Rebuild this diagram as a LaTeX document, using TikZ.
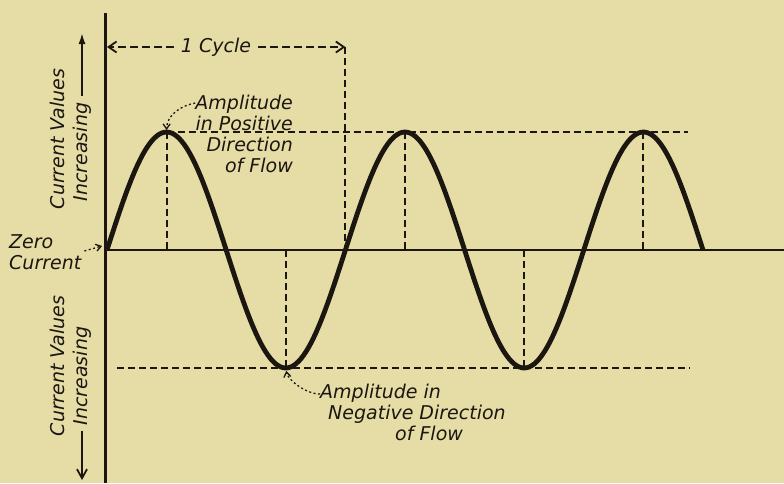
\documentclass[tikz,border=0pt]{standalone}
\usepackage{fontspec}
\newfontfamily\letterfont{DejaVu Sans}
\usetikzlibrary{arrows.meta}
\definecolor{paper}{RGB}{229,220,166}
\definecolor{ink}{RGB}{28,22,16}

\begin{document}
\begin{tikzpicture}[x=1pt, y=-1pt,
    lettering/.style={inner sep=0pt, text=ink, font=\letterfont\itshape\fontsize{19}{21}\selectfont},
    axisline/.style={draw=ink, line width=2.6pt},
    wave/.style={draw=ink, line width=4.8pt, line join=round},
    guide/.style={draw=ink, line width=2pt, dash pattern=on 7pt off 4pt},
    pointer/.style={draw=ink, line width=1.3pt, dash pattern=on 2pt off 2.5pt, -{Straight Barb[length=5pt,width=7pt]}},
    span/.style={draw=ink, line width=1.8pt, dash pattern=on 8pt off 4pt, -{Straight Barb[length=8pt,width=11pt]}}]

    \useasboundingbox (0,0) rectangle (784,483);
    \fill[paper] (0,0) rectangle (784,483);

    % Axes
    \coordinate (O) at (105,250);
    \coordinate (top) at (105,13);
    \coordinate (bot) at (105,483);
    \coordinate (far) at (784,250);
    \draw[axisline, line width=3pt] (top) -- (bot);
    \draw[axisline] (O) -- (far);

    % Peaks and troughs
    \foreach \k in {0,1,2}
        \coordinate (pk\k) at ({166.6+238.4*\k},132);
    \foreach \k in {0,1}
        \coordinate (tr\k) at ({285.8+238.4*\k},368);
    \coordinate (hiend) at (688,132);
    \coordinate (loa) at (117,368);
    \coordinate (lob) at (690,368);

    % Amplitude guides
    \draw[guide, line width=2.3pt] (pk0) -- (hiend);
    \draw[guide, line width=2.3pt] (loa) -- (lob);
    \foreach \k in {0,1,2}
        \draw[guide] (pk\k) -- (pk\k |- O);
    \foreach \k in {0,1}
        \draw[guide] (tr\k |- O) -- (tr\k);

    % Wave
    \draw[wave] plot[smooth, domain=0:900, samples=121] ({107+\x/360*238.4},{250-118*sin(\x)});

    % Cycle
    \node[lettering, inner xsep=7pt] (cyc) at (216,47) {1 Cycle};
    \coordinate (cycL) at (107,47);
    \coordinate (cycR) at (345.4,47);
    \draw[span] (cyc.west) -- (cycL);
    \draw[span] (cyc.east) -- (cycR);
    \draw[guide] (cycR) -- (cycR |- O);

    % Side labels
    \node[lettering, rotate=90] (upcur) at (57,139) {Current Values};
    \node[lettering, rotate=90] (upinc) at (82,152) {Increasing};
    \coordinate (uptip) at (82,33);
    \draw[ink, line width=1.8pt, shorten <=7pt, -{Latex[length=11pt,width=7pt]}] (upinc.east) -- (uptip);

    \node[lettering, rotate=90] (locur) at (57,366) {Current Values};
    \node[lettering, rotate=90] (loinc) at (82,376) {Increasing};
    \coordinate (lotip) at (82,480);
    \draw[ink, line width=1.8pt, shorten <=6pt, -{Straight Barb[length=9pt,width=10pt]}] (loinc.west) -- (lotip);

    % Zero current
    \node[lettering, align=left, anchor=north west] (zero) at (9,234) {Zero\\Current};
    \coordinate (zt) at (102,246);
    \draw[pointer, shorten <=3pt] (zero.east) -- (zt);

    % Amplitude labels
    \node[lettering, align=right, anchor=north east] (pos) at (293,95) {Amplitude\\in Positive\\Direction\\of Flow};
    \draw[pointer, shorten >=2pt] ([yshift=-8pt]pos.north west) .. controls +(-12,2) and +(0,-18) .. (pk0);

    \node[lettering, align=left, anchor=north west] (neg) at (320,384) {Amplitude in\\\hspace*{8pt}Negative Direction\\\hspace*{75pt}of Flow};
    \draw[pointer, shorten >=3pt] ([yshift=-10pt]neg.north west) .. controls +(-14,0) and +(2,12) .. (tr0);

\end{tikzpicture}
\end{document}
